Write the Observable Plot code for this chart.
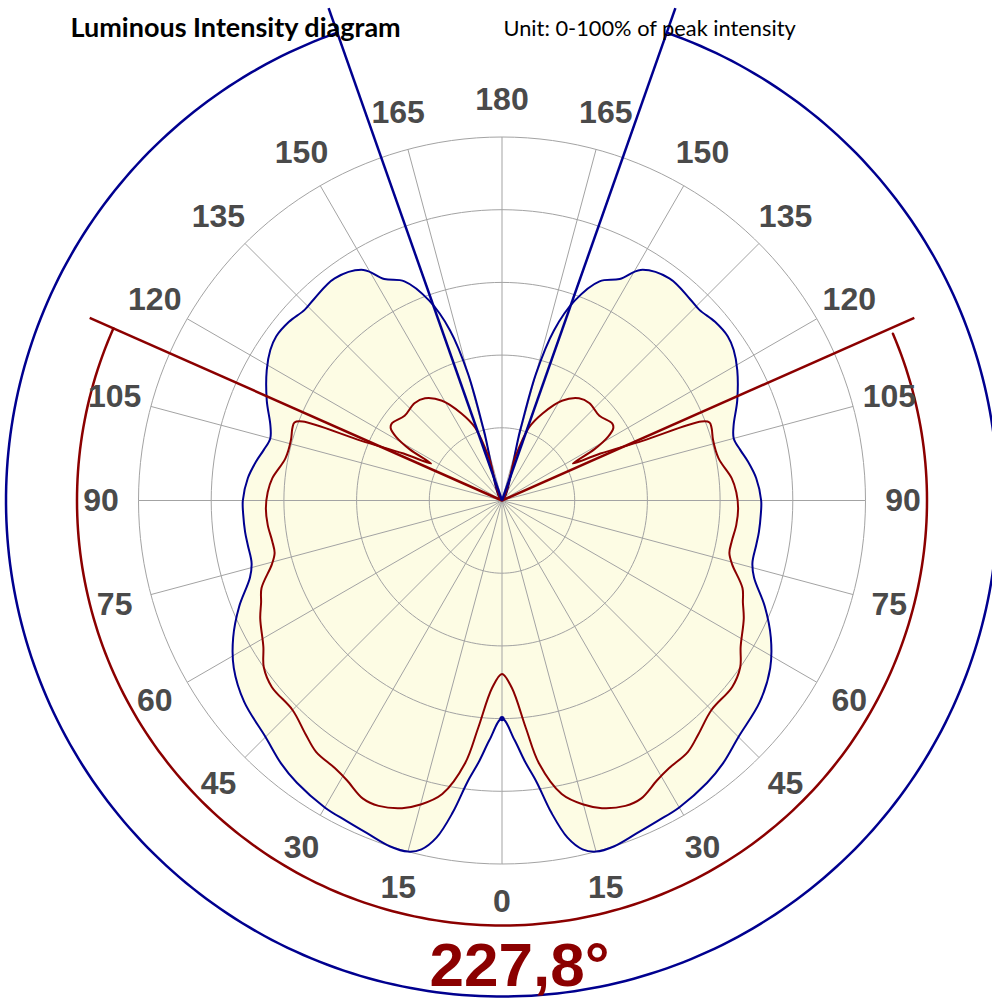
<!DOCTYPE html>
<html><head><meta charset="utf-8">
<script src="https://cdn.jsdelivr.net/npm/d3@7"></script>
<script src="https://cdn.jsdelivr.net/npm/@observablehq/plot@0.6"></script>
<style>
body{margin:0;background:#fff;}
#chart svg{display:block;}
</style>
</head><body><div id="chart"></div>
<script>
// ---- data (percent of peak intensity, angle in degrees from nadir) ----
const blueAngles = [0,3,5,7,9,11,13,15,18,22,26,30,36,40,45,52,58,63,68,73,76,80,83,87,90,95,99,102,105,108,113,119,123,126,130,134,137,143,149,152,156,160,163,165,165.5,166,180];
const blueValues = [60,66,72,78,87,94.5,98.5,100,100,98.8,98,97.5,96,94.5,92,90,87,83,78,72.5,71,71,71.2,71.3,71.3,70.2,68.5,67,66,67,70.3,74,76,76.8,76.5,75.5,75.8,76.5,74,69,66,58.5,49,36,20,0,0];
const redAngles = [0,3,6,8,11.5,15,18,22,25,29,32,36.5,40,45,51,55,58.5,64,67,70,74.5,77,80,84,88,92,95.5,101,106,109,110.6,111.6,113,115.5,117.5,119,121,123,125,131,138,143,149,155,159.7,163,165,180];
const redValues = [47.7,51.6,63,73,82.4,86.6,89,90.6,90.5,88,86.8,86,84,81.5,81.5,80,77,74,72,70.4,65.7,64.2,64.2,64.8,65,64.5,63.5,60.7,60.4,61,61,59,42,30,22,29,34,36.5,37,35.5,36,35.2,32,26.4,21.4,12.4,0,0];
const beamAngleRed = 227.8;
const beamAngleBlue = 321.2;
const gridRings = [20,40,60,80,100];
const labelAnglesRight = [0,15,30,45,60,75,90,105,120,135,150,165,180];
const labelAnglesLeft = [15,30,45,60,75,90,105,120,135,150,165];
const titleText = "Luminous Intensity diagram";
const unitText = "Unit: 0-100% of peak intensity";

// ---- geometry ----
const W = 992, H = 999, CX = 501.5, CY = 500, S = 3.635; // px per percent
const rad = d => d * Math.PI / 180;
const pt = (theta, r, side = 1) => ({x: side * r * Math.sin(rad(theta)), y: -r * Math.cos(rad(theta))});

function loop(angles, values) {
  const pts = [];
  angles.forEach((a, i) => pts.push(pt(a, values[i], 1)));
  for (let i = angles.length - 2; i >= 1; i--) pts.push(pt(angles[i], values[i], -1));
  const out = [];
  for (const p of pts) {
    const q = out[out.length - 1];
    if (q && Math.abs(q.x - p.x) < 1e-6 && Math.abs(q.y - p.y) < 1e-6) continue;
    out.push(p);
  }
  return out;
}
const blueLoop = loop(blueAngles, blueValues);
const redLoop = loop(redAngles, redValues);

const ringPts = gridRings.flatMap(r => d3.range(0, 360, 2).map(a => ({...pt(a, r), r})));
const spokes = d3.range(0, 360, 15).map(a => ({x2: pt(a, 100).x, y2: pt(a, 100).y}));

const labelR = 401 / S;
const labels = [
  ...labelAnglesRight.map(a => ({...pt(a, labelR, 1), t: String(a)})),
  ...labelAnglesLeft.map(a => ({...pt(a, labelR, -1), t: String(a)}))
];

function arc(half, r) {
  return d3.range(-half, half + 0.001, 1).map(a => pt(a, r));
}
const redHalf = beamAngleRed / 2, blueHalf = beamAngleBlue / 2;
const redArcR = 425 / S, redLineR = 451 / S;
const blueArcR = 496 / S, blueLineR = 522 / S;
const redArc = arc(redHalf, redArcR);
const blueArc = arc(blueHalf, blueArcR);
const redLines = [pt(redHalf, redLineR, 1), pt(redHalf, redLineR, -1)];
const blueLines = [pt(blueHalf, blueLineR, 1), pt(blueHalf, blueLineR, -1)];

const BLUE = "#00008f", RED = "#8b0000", GRID = "#a3a3a3", FILL = "#fdfce4";
const labelFont = "Liberation Sans, Arial, sans-serif";

const chart = Plot.plot({
  width: W, height: H,
  margin: 0,
  x: {domain: [-CX / S, (W - CX) / S], axis: null},
  y: {domain: [-(H - CY) / S, CY / S], axis: null},
  marks: [
    Plot.line(blueLoop, {x: "x", y: "y", fill: FILL, stroke: "none", curve: "catmull-rom-closed"}),
    Plot.line(redLoop, {x: "x", y: "y", fill: FILL, stroke: "none", curve: "catmull-rom-closed"}),
    Plot.line(ringPts, {x: "x", y: "y", z: "r", stroke: GRID, strokeWidth: 1, curve: "linear-closed"}),
    Plot.link(spokes, {x1: 0, y1: 0, x2: "x2", y2: "y2", stroke: GRID, strokeWidth: 1}),
    Plot.line(blueLoop, {x: "x", y: "y", stroke: BLUE, strokeWidth: 2, curve: "catmull-rom-closed"}),
    Plot.line(redLoop, {x: "x", y: "y", stroke: RED, strokeWidth: 2, curve: "catmull-rom-closed"}),
    Plot.line(redArc, {x: "x", y: "y", stroke: RED, strokeWidth: 2.5}),
    Plot.link(redLines, {x1: 0, y1: 0, x2: "x", y2: "y", stroke: RED, strokeWidth: 2.5}),
    Plot.line(blueArc, {x: "x", y: "y", stroke: BLUE, strokeWidth: 2.5}),
    Plot.link(blueLines, {x1: 0, y1: 0, x2: "x", y2: "y", stroke: BLUE, strokeWidth: 2.5}),
    Plot.dot([pt(blueAngles[0], blueValues[0])], {x: "x", y: "y", r: 2.6, fill: BLUE, stroke: "none"}),
    Plot.text(labels, {x: "x", y: "y", text: "t", fontSize: 32, fontWeight: "bold", fill: "#4a4a4a", fontFamily: labelFont, textAnchor: "middle", lineAnchor: "middle"}),
    Plot.text([titleText], {frameAnchor: "top-left", dx: 70, dy: 36, text: d => d, textAnchor: "start", lineAnchor: "bottom", fontSize: 27, fontWeight: "bold", fill: "#000", fontFamily: "Lato, sans-serif"}),
    Plot.text([unitText], {frameAnchor: "top-left", dx: 503, dy: 35, text: d => d, textAnchor: "start", lineAnchor: "bottom", fontSize: 21.8, fill: "#000", fontFamily: "Lato, sans-serif"}),
    Plot.text([beamAngleRed], {frameAnchor: "bottom-left", dx: 519, dy: -14, text: d => String(d).replace(".", ",") + "°", textAnchor: "middle", lineAnchor: "bottom", fontSize: 62, fontWeight: "bold", fill: RED, fontFamily: labelFont})
  ]
});
document.getElementById("chart").appendChild(chart);
</script>
</body></html>
